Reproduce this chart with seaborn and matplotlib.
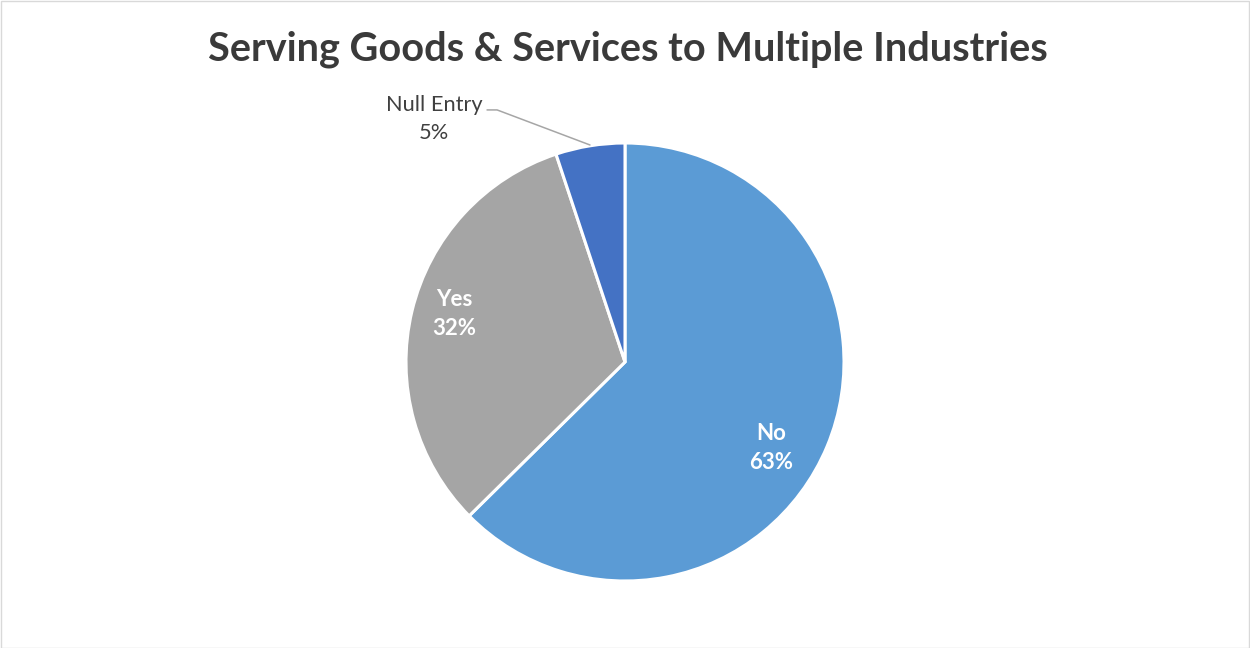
import matplotlib
matplotlib.use("Agg")
import matplotlib.pyplot as plt
import seaborn as sns
from matplotlib.patches import Rectangle

# Data
categories = ["No", "Yes", "Null Entry"]
values = [62.6, 32.3, 5.1]
colors = ["#5B9BD5", "#A5A5A5", "#4472C4"]
title = "Serving Goods & Services to Multiple Industries"

sns.set_theme(style="white")
plt.rcParams['font.family'] = ['Lato', 'DejaVu Sans']

W, H = 1250, 648
fig = plt.figure(figsize=(W / 100, H / 100), dpi=100)
fig.patch.set_facecolor("white")
fig.patches.append(Rectangle((0.5 / W, 0.5 / H), 1 - 1.5 / W, 1 - 1.5 / H,
                             transform=fig.transFigure, fill=False,
                             edgecolor="#d9d9d9", linewidth=1.0))

cx, cy, r = 625, 362, 219
ax = fig.add_axes([(cx - r) / W, (H - cy - r) / H, 2 * r / W, 2 * r / H])
wedges, _ = ax.pie(values, colors=colors, startangle=90, counterclock=False,
                   radius=1.0,
                   wedgeprops=dict(edgecolor="white", linewidth=2.2))
ax.set_xlim(-1, 1)
ax.set_ylim(-1, 1)
ax.set_aspect("equal")
ax.axis("off")

pct = [f"{round(v / sum(values) * 100)}%" for v in values]

# inside labels
ax.text(0.667, -0.392, f"{categories[0]}\n{pct[0]}", ha="center", va="center",
        color="white", fontsize=16, fontweight="bold", linespacing=1.5)
ax.text(-0.78, 0.22, f"{categories[1]}\n{pct[1]}", ha="center", va="center",
        color="white", fontsize=16, fontweight="bold", linespacing=1.5)
# outside label with leader
ax.text(-0.872, 1.11, f"{categories[2]}\n{pct[2]}", ha="center", va="center",
        color="#404040", fontsize=15.7, linespacing=1.5, clip_on=False)
ax.plot([-0.63, -0.584, -0.16], [1.151, 1.151, 0.991], color="#A6A6A6",
        linewidth=1.1, clip_on=False)

fig.text(0.502, 1 - 49 / H, title, ha="center", va="center",
         fontsize=28.5, fontweight="bold", color="#3a3a3a")

fig.savefig("out.png", dpi=100)
